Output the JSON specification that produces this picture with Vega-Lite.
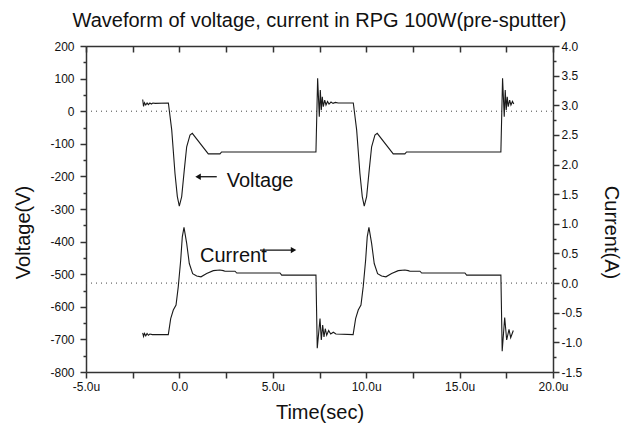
{
  "$schema": "https://vega.github.io/schema/vega-lite/v6.json",
  "width": 467,
  "height": 326,
  "autosize": {"type": "none"},
  "padding": {"left": 86, "top": 46, "right": 78, "bottom": 56},
  "background": "white",
  "title": {"text": "Waveform of voltage, current in RPG 100W(pre-sputter)", "fontSize": 20, "font": "Liberation Sans", "fontWeight": "normal", "color": "#111", "anchor": "middle", "offset": 9},
  "config": {
    "view": {"stroke": null},
    "font": "Liberation Sans",
    "axis": {"grid": false, "domainColor": "#333", "tickColor": "#333", "labelColor": "#111", "titleColor": "#111", "labelFont": "Liberation Sans", "titleFont": "Liberation Sans", "labelFontSize": 12, "titleFontSize": 20, "titleFontWeight": "normal", "domainWidth": 1.5, "tickWidth": 1.5, "labelOverlap": false, "labelFlush": false}
  },
  "datasets": {
    "volt": [
      {"t": -1.965, "v": 36}, {"t": -1.92, "v": 15}, {"t": -1.87, "v": 26}, {"t": -1.8, "v": 19}, {"t": -1.73, "v": 25}, {"t": -1.66, "v": 20}, {"t": -1.58, "v": 25}, {"t": -1.5, "v": 22}, {"t": -1.42, "v": 25}, {"t": -1.3, "v": 24}, {"t": -0.59, "v": 25},
      {"t": -0.41, "v": -58}, {"t": -0.236, "v": -191}, {"t": -0.11, "v": -262}, {"t": -0.005, "v": -291}, {"t": 0.123, "v": -262}, {"t": 0.262, "v": -180}, {"t": 0.39, "v": -109}, {"t": 0.567, "v": -73}, {"t": 0.69, "v": -68},
      {"t": 1.547, "v": -131}, {"t": 2.17, "v": -131}, {"t": 2.26, "v": -125}, {"t": 7.31, "v": -125},
      {"t": 7.4, "v": 101}, {"t": 7.49, "v": -17}, {"t": 7.543, "v": 65}, {"t": 7.597, "v": 4}, {"t": 7.65, "v": 44}, {"t": 7.704, "v": 14}, {"t": 7.779, "v": 34}, {"t": 7.848, "v": 19}, {"t": 7.93, "v": 30}, {"t": 8.01, "v": 22}, {"t": 8.116, "v": 28}, {"t": 8.223, "v": 24}, {"t": 8.35, "v": 27}, {"t": 8.5, "v": 25}, {"t": 9.31, "v": 25},
      {"t": 9.49, "v": -58}, {"t": 9.664, "v": -191}, {"t": 9.79, "v": -262}, {"t": 9.895, "v": -291}, {"t": 10.023, "v": -262}, {"t": 10.162, "v": -180}, {"t": 10.29, "v": -109}, {"t": 10.467, "v": -73}, {"t": 10.59, "v": -68},
      {"t": 11.447, "v": -131}, {"t": 12.07, "v": -131}, {"t": 12.16, "v": -125}, {"t": 17.21, "v": -125},
      {"t": 17.3, "v": 101}, {"t": 17.39, "v": -17}, {"t": 17.443, "v": 65}, {"t": 17.497, "v": 4}, {"t": 17.55, "v": 44}, {"t": 17.604, "v": 14}, {"t": 17.679, "v": 34}, {"t": 17.748, "v": 19}, {"t": 17.83, "v": 30}, {"t": 17.9, "v": 22}
    ],
    "curr": [
      {"t": -1.965, "i": -0.84}, {"t": -1.92, "i": -0.9}, {"t": -1.87, "i": -0.85}, {"t": -1.8, "i": -0.89}, {"t": -1.73, "i": -0.85}, {"t": -1.66, "i": -0.88}, {"t": -1.58, "i": -0.86}, {"t": -1.45, "i": -0.87}, {"t": -0.594, "i": -0.87},
      {"t": -0.466, "i": -0.6}, {"t": -0.326, "i": -0.455}, {"t": -0.18, "i": -0.37}, {"t": -0.06, "i": -0.06}, {"t": 0.07, "i": 0.39}, {"t": 0.155, "i": 0.78}, {"t": 0.246, "i": 0.94}, {"t": 0.39, "i": 0.67}, {"t": 0.53, "i": 0.33}, {"t": 0.71, "i": 0.16}, {"t": 0.926, "i": 0.12}, {"t": 1.156, "i": 0.106}, {"t": 1.46, "i": 0.16}, {"t": 1.815, "i": 0.21}, {"t": 2.17, "i": 0.22}, {"t": 2.35, "i": 0.21}, {"t": 2.44, "i": 0.2}, {"t": 2.977, "i": 0.2}, {"t": 3.07, "i": 0.17}, {"t": 5.385, "i": 0.17}, {"t": 5.476, "i": 0.135}, {"t": 7.31, "i": 0.135},
      {"t": 7.38, "i": -1.1}, {"t": 7.527, "i": -0.6}, {"t": 7.597, "i": -0.96}, {"t": 7.67, "i": -0.71}, {"t": 7.74, "i": -0.91}, {"t": 7.81, "i": -0.77}, {"t": 7.885, "i": -0.88}, {"t": 7.99, "i": -0.8}, {"t": 8.1, "i": -0.86}, {"t": 8.24, "i": -0.83}, {"t": 8.38, "i": -0.86}, {"t": 9.3, "i": -0.87},
      {"t": 9.434, "i": -0.6}, {"t": 9.574, "i": -0.455}, {"t": 9.72, "i": -0.37}, {"t": 9.84, "i": -0.06}, {"t": 9.97, "i": 0.39}, {"t": 10.055, "i": 0.78}, {"t": 10.146, "i": 0.94}, {"t": 10.29, "i": 0.67}, {"t": 10.43, "i": 0.33}, {"t": 10.61, "i": 0.16}, {"t": 10.826, "i": 0.12}, {"t": 11.056, "i": 0.106}, {"t": 11.36, "i": 0.16}, {"t": 11.715, "i": 0.21}, {"t": 12.07, "i": 0.22}, {"t": 12.25, "i": 0.21}, {"t": 12.34, "i": 0.2}, {"t": 12.877, "i": 0.2}, {"t": 12.97, "i": 0.17}, {"t": 15.285, "i": 0.17}, {"t": 15.376, "i": 0.135}, {"t": 17.21, "i": 0.135},
      {"t": 17.28, "i": -1.15}, {"t": 17.414, "i": -0.58}, {"t": 17.52, "i": -0.96}, {"t": 17.645, "i": -0.78}, {"t": 17.735, "i": -0.92}, {"t": 17.875, "i": -0.8}
    ],
    "vzero": [{"t": -5, "t2": 20, "v": 0}],
    "izero": [{"t": -5, "t2": 20, "i": 0}],
    "arrows": [{"t": 1.0, "t2": 2.0, "v": -201}, {"t": 4.315, "t2": 6.11, "v": -426}],
    "heads": [{"t": 1.0, "v": -201, "shape": "triangle-left"}, {"t": 6.11, "v": -426, "shape": "triangle-right"}],
    "labels": [{"t": 2.533, "v": -232, "label": "Voltage"}, {"t": 1.103, "v": -462, "label": "Current"}]
  },
  "layer": [
    {
      "encoding": {
        "x": {"field": "t", "type": "quantitative", "scale": {"domain": [-5, 20], "nice": false, "zero": false},
          "axis": {"orient": "bottom", "values": [-5, -2.5, 0, 2.5, 5, 7.5, 10, 12.5, 15, 17.5, 20],
            "labelExpr": "datum.value % 5 !== 0 ? '' : (datum.value === 0 ? '0.0' : (datum.value < 0 ? '-' : '') + format(abs(datum.value), '.1f') + 'u')",
            "tickSize": 6, "labelPadding": 3, "title": "Time(sec)", "titleY": 46, "titleBaseline": "alphabetic"}},
        "y": {"field": "v", "type": "quantitative", "scale": {"domain": [-800, 200], "nice": false, "zero": false},
          "axis": {"orient": "left", "values": [-800, -750, -700, -650, -600, -550, -500, -450, -400, -350, -300, -250, -200, -150, -100, -50, 0, 50, 100, 150, 200],
            "labelExpr": "datum.value % 100 === 0 ? (datum.value < 0 ? '-' : '') + format(abs(datum.value), 'd') : ''",
            "tickSize": {"condition": {"test": "datum.value % 100 === 0", "value": 6}, "value": 3},
            "labelPadding": 6, "title": "Voltage(V)", "titleX": -63, "titleY": 186, "titleAngle": -90, "titleAlign": "center", "titleBaseline": "middle"}}
      },
      "layer": [
        {"data": {"name": "vzero"}, "mark": {"type": "rule", "strokeDash": [1, 4], "strokeWidth": 1, "color": "#444"}, "encoding": {"x2": {"field": "t2"}}},
        {"data": {"name": "volt"}, "mark": {"type": "line", "color": "#1a1a1a", "strokeWidth": 1.1}},
        {"data": {"name": "arrows"}, "mark": {"type": "rule", "color": "#111", "strokeWidth": 1.3}, "encoding": {"x2": {"field": "t2"}}},
        {"data": {"name": "heads"}, "mark": {"type": "point", "filled": true, "color": "#111", "opacity": 1, "size": 40}, "encoding": {"shape": {"field": "shape", "type": "nominal", "scale": null}}},
        {"data": {"name": "labels"}, "mark": {"type": "text", "align": "left", "baseline": "alphabetic", "fontSize": 20, "font": "Liberation Sans", "color": "#111"}, "encoding": {"text": {"field": "label"}}}
      ]
    },
    {
      "encoding": {
        "x": {"field": "t", "type": "quantitative", "scale": {"domain": [-5, 20], "nice": false, "zero": false},
          "axis": {"orient": "top", "values": [-5, -2.5, 0, 2.5, 5, 7.5, 10, 12.5, 15, 17.5, 20], "labels": false, "tickSize": -6, "title": null}},
        "y": {"field": "i", "type": "quantitative", "scale": {"domain": [-1.5, 4], "nice": false, "zero": false},
          "axis": {"orient": "right", "values": [-1.5, -1.25, -1, -0.75, -0.5, -0.25, 0, 0.25, 0.5, 0.75, 1, 1.25, 1.5, 1.75, 2, 2.25, 2.5, 2.75, 3, 3.25, 3.5, 3.75, 4],
            "labelExpr": "abs(datum.value * 2 - round(datum.value * 2)) > 0.01 ? '' : (datum.value < 0 ? '-' : '') + format(abs(datum.value), '.1f')",
            "tickSize": {"condition": {"test": "abs(datum.value * 2 - round(datum.value * 2)) < 0.01", "value": 6}, "value": 3},
            "labelPadding": 2, "title": "Current(A)", "titleX": 57, "titleY": 186, "titleAngle": 90, "titleAlign": "center", "titleBaseline": "middle"}}
      },
      "layer": [
        {"data": {"name": "izero"}, "mark": {"type": "rule", "strokeDash": [1, 4], "strokeWidth": 1, "color": "#444"}, "encoding": {"x2": {"field": "t2"}}},
        {"data": {"name": "curr"}, "mark": {"type": "line", "color": "#1a1a1a", "strokeWidth": 1.1}}
      ]
    }
  ],
  "resolve": {"scale": {"y": "independent"}, "axis": {"x": "independent"}}
}
